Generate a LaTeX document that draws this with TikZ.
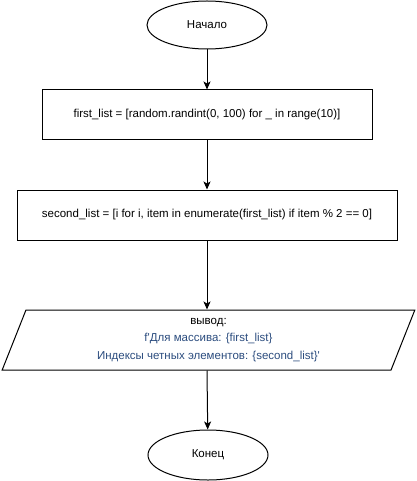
\documentclass[tikz,border=0pt]{standalone}
\usepackage{fontspec}
\setmainfont{Liberation Sans}
\usetikzlibrary{shapes.geometric,arrows.meta}
\definecolor{outblue}{HTML}{2B4C7E}
\tikzset{
  term/.style={draw, ellipse, line width=1, minimum width=120, minimum height=48, inner sep=0},
  proc/.style={draw, rectangle, line width=1, minimum height=50, inner sep=0},
  io/.style={draw, trapezium, trapezium left angle=71.57, trapezium right angle=108.43,
    trapezium stretches=true, line width=1, minimum width=413, minimum height=60,
    inner sep=0, align=center},
  flow/.style={line width=1, -{Stealth[length=8, width=7, inset=2]}}
}
\begin{document}
\begin{tikzpicture}[x=1pt, y=-1pt, font=\fontsize{11.5}{17.5}\selectfont]
\useasboundingbox (0,0) rectangle (416,481);

\node[term] (start) at (207,25) {Начало};
\node[proc, minimum width=330] (first) at (207,115)
  {first\_list = [random.randint(0, 100) for \_ in range(10)]};
\node[proc, minimum width=380] (second) at (207,215)
  {second\_list = [i for i, item in enumerate(first\_list) if item \% 2 == 0]};
\node[io] (out) at (208.5,340)
  {вывод:\\
   \color{outblue}f\textquotesingle Для массива: \{first\_list\}\\
   \color{outblue}Индексы четных элементов: \{second\_list\}\textquotesingle};
\node[term, minimum height=50] (stop) at (208,455) {Конец};

\draw[flow] (start) -- (first);
\draw[flow] (first) -- (second);
\draw[flow] (second.south) -- (second.south |- out.north);
\draw[flow] (second.south |- out.south) -- (stop);
\end{tikzpicture}
\end{document}
